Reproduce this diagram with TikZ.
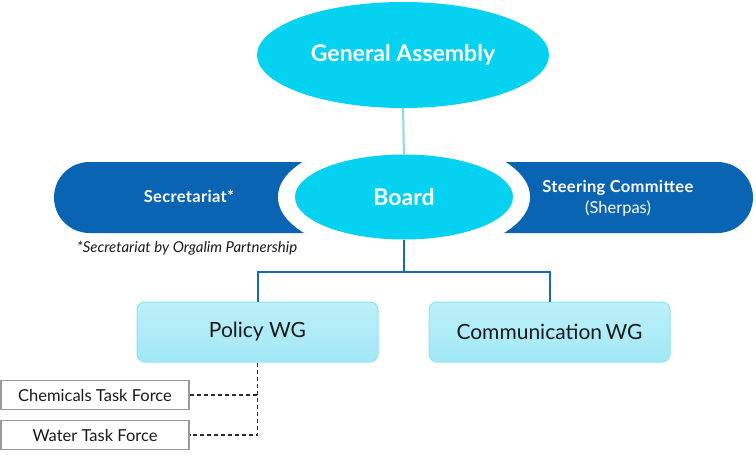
\documentclass[tikz,border=0pt]{standalone}
\usepackage{fontspec}
\setmainfont{Lato}
\usetikzlibrary{shapes.geometric}
\definecolor{cyanA}{HTML}{05D2F0}
\definecolor{blueA}{HTML}{0A64B4}
\definecolor{lineblue}{HTML}{1668BE}
\definecolor{linecyan}{HTML}{86DCEC}
\definecolor{wgtop}{HTML}{BDF0F9}
\definecolor{wgbot}{HTML}{A2E8F6}
\definecolor{wgborder}{HTML}{8EE3F2}
\definecolor{tfborder}{HTML}{9A9A9A}
\definecolor{txt}{HTML}{1A1A1A}
\definecolor{dash}{HTML}{2A2A2A}
\tikzset{
  ell/.style={ellipse, fill=cyanA, inner sep=0pt, text=white, font=\bfseries},
  wgbox/.style={rounded corners=8pt, draw=wgborder, line width=1pt, top color=wgtop, bottom color=wgbot,
    minimum width=241pt, minimum height=60pt, inner sep=0pt, text=txt, font=\fontsize{21}{25}\selectfont},
  tfbox/.style={draw=tfborder, line width=1.5pt, fill=white, minimum width=188pt, minimum height=29pt,
    inner sep=0pt, text=txt, font=\fontsize{16.5}{19}\selectfont},
  blueconn/.style={draw=lineblue, line width=2pt},
  dashconn/.style={draw=dash, line width=1.4pt, dash pattern=on 4pt off 3pt},
}
\begin{document}
\begin{tikzpicture}[x=1pt,y=-1pt]
\useasboundingbox (0,0) rectangle (756,455);
% blue band
\fill[blueA, rounded corners=35.5pt] (54,162) rectangle (753,233);
% General Assembly
\node[ell, minimum width=292pt, minimum height=106pt, font=\bfseries\fontsize{23}{27}\selectfont] (ga) at (403,55) {General Assembly};
% board with white halo
\fill[white] (404,197) ellipse [x radius=126, y radius=59];
\node[ell, minimum width=218pt, minimum height=85pt, font=\bfseries\fontsize{23}{27}\selectfont] (board) at (404,197) {Board};
\draw[draw=linecyan, line width=2pt] (ga.south) -- (404,155);
% band labels
\node[text=white, font=\bfseries\fontsize{16.5}{19}\selectfont] (sec) at (189,196) {\addfontfeature{LetterSpace=2}Secretariat*};
\node[text=white, align=center, font=\fontsize{16.5}{21}\selectfont] (sc) at (618,198) {\textbf{\addfontfeature{LetterSpace=2}Steering Committee}\\(Sherpas)};
\node[text=txt, font=\itshape\fontsize{15}{18}\selectfont] (note) at (187,248) {*Secretariat by Orgalim Partnership};
% WGs
\node[wgbox] (pol) at (257.5,332) {Policy WG};
\node[wgbox] (com) at (549.5,332) {Communication\,WG};
\coordinate (split) at (404,272);
\draw[blueconn] (board.south) -- (split);
\draw[blueconn] (pol.north) |- (split) -| (com.north);
% task forces
\node[tfbox] (chem) at (95,395) {Chemicals Task Force};
\node[tfbox] (water) at (95,435) {Water Task Force};
\coordinate (wcorner) at (257.5,435);
\draw[dashconn] (pol.south) -- (wcorner) -- (water.east);
\draw[dashconn] (chem.east) -- (chem.east -| pol.south);
\end{tikzpicture}
\end{document}
